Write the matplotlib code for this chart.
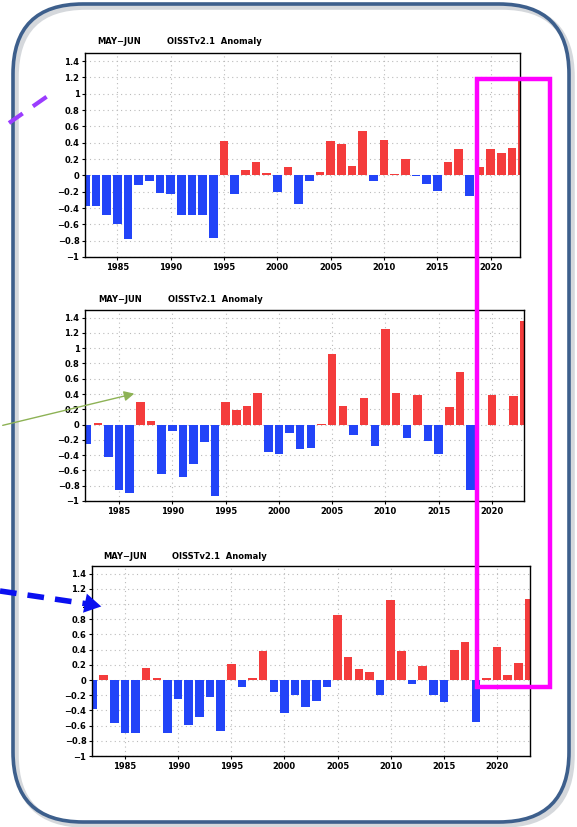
import matplotlib
matplotlib.use("Agg")
import matplotlib.pyplot as plt
import numpy as np
from matplotlib.patches import FancyBboxPatch, Rectangle, FancyArrowPatch
from matplotlib.ticker import FuncFormatter, MultipleLocator

years = list(range(1982, 2024))

anom_top = [-0.38, -0.37, -0.48, -0.60, -0.78, -0.12, -0.07, -0.22, -0.23, -0.49,
            -0.49, -0.49, -0.77, 0.42, -0.23, 0.07, 0.17, 0.03, -0.20, 0.10,
            -0.35, -0.07, 0.04, 0.42, 0.38, 0.12, 0.55, -0.07, 0.43, 0.02,
            0.20, -0.01, -0.11, -0.19, 0.16, 0.32, -0.25, 0.10, 0.32, 0.27,
            0.33, 1.21]

anom_mid = [-0.25, 0.02, -0.43, -0.86, -0.90, 0.29, 0.05, -0.65, -0.08, -0.69,
            -0.51, -0.23, -0.94, 0.30, 0.19, 0.25, 0.41, -0.36, -0.39, -0.11,
            -0.32, -0.31, 0.01, 0.93, 0.25, -0.13, 0.35, -0.28, 1.25, 0.42,
            -0.18, 0.39, -0.21, -0.39, 0.23, 0.69, -0.86, -0.01, 0.39, -0.01,
            0.37, 1.36]

anom_bot = [-0.385, 0.066, -0.56, -0.70, -0.70, 0.16, 0.03, -0.70, -0.25, -0.59,
            -0.49, -0.23, -0.675, 0.21, -0.09, 0.02, 0.38, -0.16, -0.44, -0.20,
            -0.35, -0.28, -0.09, 0.86, 0.30, 0.14, 0.11, -0.20, 1.05, 0.38,
            -0.05, 0.18, -0.20, -0.29, 0.39, 0.50, -0.55, 0.03, 0.44, 0.066,
            0.23, 1.07]

title_left = "MAY\u2212JUN"
title_right = "OISSTv2.1  Anomaly"
xtick_years = [1985, 1990, 1995, 2000, 2005, 2010, 2015, 2020]

W, H = 577, 827
fig = plt.figure(figsize=(W / 100, H / 100), dpi=100)
fig.patch.set_facecolor("white")

RED = "#F43C3C"
BLUE = "#2244F8"

def yfmt(v, pos):
    s = ("%.1f" % v).rstrip("0").rstrip(".")
    if s in ("-0", "\u22120"):
        s = "0"
    return s.replace("-", "\u2212")

def panel(px_left, px_right, px_top, px_bot, vals, xlim):
    ax = fig.add_axes([px_left / W, 1 - px_bot / H,
                       (px_right - px_left) / W, (px_bot - px_top) / H])
    colors = [RED if v >= 0 else BLUE for v in vals]
    ax.bar(years, vals, width=0.8, color=colors, zorder=2)
    ax.set_xlim(*xlim)
    ax.set_ylim(-1, 1.5)
    ax.set_yticks(np.arange(-1, 1.41, 0.2))
    ax.yaxis.set_major_formatter(FuncFormatter(yfmt))
    ax.set_xticks(xtick_years)
    ax.grid(True, color="#bbbbbb", linestyle=(0, (1, 3)), linewidth=0.8, zorder=0)
    for s in ax.spines.values():
        s.set_linewidth(1.0)
        s.set_color("black")
        s.set_zorder(5)
    ax.tick_params(axis="both", labelsize=6, length=2.5, width=0.8, pad=1.5,
                   direction="out")
    for lab in ax.get_xticklabels() + ax.get_yticklabels():
        lab.set_fontweight("bold")
    return ax

panel(85, 520, 53, 257, anom_top, (1981.97, 2022.75))
panel(85, 524, 310, 501, anom_mid, (1981.8, 2023.0))
panel(92, 530, 566, 756, anom_bot, (1981.9, 2023.1))

ov = fig.add_axes([0, 0, 1, 1], zorder=10)
ov.set_xlim(0, W)
ov.set_ylim(H, 0)
ov.axis("off")
ov.patch.set_alpha(0)

# titles
for (xl, xr, y) in [(97, 167, 46), (98, 168, 304), (103, 172, 561)]:
    ov.text(xl, y, title_left, fontsize=6, fontweight="bold", ha="left", va="bottom")
    ov.text(xr, y, title_right, fontsize=6, fontweight="bold", ha="left", va="bottom")

# rounded frame
shadow = FancyBboxPatch((16, 7), 556, 818, boxstyle="round,pad=0,rounding_size=70",
                        fill=False, edgecolor="#d5d8dc", linewidth=4)
ov.add_patch(shadow)
frame = FancyBboxPatch((13, 4), 556, 818, boxstyle="round,pad=0,rounding_size=70",
                       fill=False, edgecolor="#3D5F8C", linewidth=2.6)
ov.add_patch(frame)

# magenta highlight
ov.add_patch(Rectangle((477, 79), 73, 608, fill=False, edgecolor="#FF00FF",
                       linewidth=3.2))

# purple dashed line
ov.plot([9, 52], [123, 93], color="#9B3CFF", linewidth=3, linestyle=(0, (4, 3)),
        solid_capstyle="butt")

# green arrow
ov.add_patch(FancyArrowPatch((0, 426), (137, 393), arrowstyle="-|>,head_length=6,head_width=3",
                             color="#8DB255", linewidth=1.0, mutation_scale=1))

# blue dashed arrow
ov.plot([0, 88], [591, 604], color="#0A10F0", linewidth=4, linestyle=(0, (3, 2)))
ov.add_patch(FancyArrowPatch((84, 603), (104, 607), arrowstyle="-|>,head_length=12,head_width=7",
                             color="#0A10F0", linewidth=0, mutation_scale=1))

fig.savefig("out.png", dpi=100)
